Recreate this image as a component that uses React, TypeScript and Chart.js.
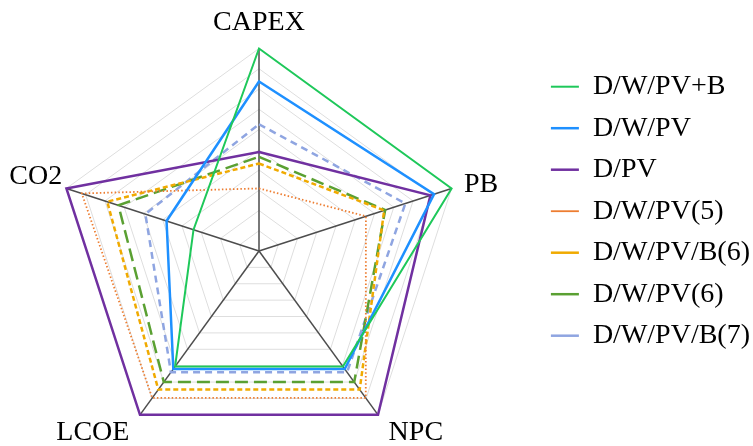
import React, { useEffect, useRef } from 'react';
import { Chart, registerables, Legend } from 'chart.js';

Chart.register(...registerables);

// ---- data ----
const categories = ['CAPEX', 'PB', 'NPC', 'LCOE', 'CO2'];
const seriesNames = ['D/W/PV+B', 'D/W/PV', 'D/PV', 'D/W/PV(5)', 'D/W/PV/B(6)', 'D/W/PV(6)', 'D/W/PV/B(7)'];
const dwpvPlusB = [1.0, 1.0, 0.705, 0.705, 0.34];
const dwpv = [0.837, 0.909, 0.72, 0.72, 0.48];
const dpv = [0.489, 0.89, 1.0, 1.0, 1.0];
const dwpv5 = [0.309, 0.555, 0.897, 0.897, 0.92];
const dwpvb6 = [0.432, 0.65, 0.846, 0.846, 0.788];
const dwpv6 = [0.465, 0.655, 0.8, 0.8, 0.73];
const dwpvb7 = [0.626, 0.76, 0.74, 0.74, 0.59];
const scaleMin = 0;
const scaleMax = 1;
const scaleStep = 0.1;

// ---- styles ----
const colors = ['rgb(30,200,90)', 'rgb(30,144,255)', 'rgb(112,48,160)', 'rgb(237,125,49)', 'rgb(240,170,0)', 'rgb(90,160,50)', 'rgb(143,165,225)'];
const widths = [2, 2.5, 2.5, 1.8, 2.5, 2.5, 2.5];
const dashes: number[][] = [[], [], [], [1.5, 2.2], [5, 3], [13, 6], [7, 5]];
const labelPadding = [21.5, 13, 18, 18, 4.5];
const labelLineHeightPx = [8, 0.05, 6.2, 6.2, 20.6];
const FONT = "'Liberation Serif', 'Times New Roman', serif";

export default function App() {
  const ref = useRef<HTMLCanvasElement | null>(null);

  useEffect(() => {
    const canvas = ref.current;
    if (!canvas) return;
    const values = [dwpvPlusB, dwpv, dpv, dwpv5, dwpvb6, dwpv6, dwpvb7];
    const chart = new Chart(canvas, {
      type: 'radar',
      data: {
        labels: categories,
        datasets: seriesNames.map((name, i) => ({
          label: name,
          data: values[i],
          borderColor: colors[i],
          backgroundColor: colors[i],
          borderWidth: widths[i],
          borderDash: dashes[i],
          fill: false,
          pointRadius: 0,
          pointHoverRadius: 0,
          pointStyle: 'line',
          tension: 0,
        })),
      },
      options: {
        responsive: false,
        devicePixelRatio: 1,
        animation: false,
        layout: { padding: { top: 5, right: -7, left: 0, bottom: 0 } },
        scales: {
          r: {
            min: scaleMin,
            max: scaleMax,
            ticks: { display: false, stepSize: scaleStep },
            grid: { color: '#dedede', lineWidth: 1, circular: false },
            angleLines: { color: '#4d4d4d', lineWidth: 1.5 },
            pointLabels: {
              color: '#000',
              padding: (ctx: any) => labelPadding[ctx.index],
              font: (ctx: any) => ({ family: FONT, size: 28, lineHeight: labelLineHeightPx[ctx.index] + 'px' }),
            },
          },
        },
        plugins: {
          tooltip: { enabled: false },
          legend: {
            position: 'right',
            align: 'start',
            title: { display: true, text: '', padding: { top: 62.7, bottom: 0 }, font: { size: 1, lineHeight: 1 } },
            labels: {
              usePointStyle: true,
              pointStyle: 'line',
              pointStyleWidth: 28,
              boxWidth: 28,
              padding: 4,
              color: '#000',
              font: { family: FONT, size: 28, lineHeight: 37.5 / 28 },
              generateLabels: (c: any) =>
                (Legend as any).defaults.labels.generateLabels(c).map((l: any) => ({ ...l, text: [l.text] })),
            },
          },
        },
      } as any,
    });
    return () => chart.destroy();
  }, []);

  return (
    <div style={{ position: 'fixed', left: 0, top: 0, width: 753, height: 446, overflow: 'hidden', background: '#fff' }}>
      <canvas ref={ref} width={780} height={470} style={{ position: 'absolute', left: -27, top: 0, width: 780, height: 470 }} />
    </div>
  );
}
